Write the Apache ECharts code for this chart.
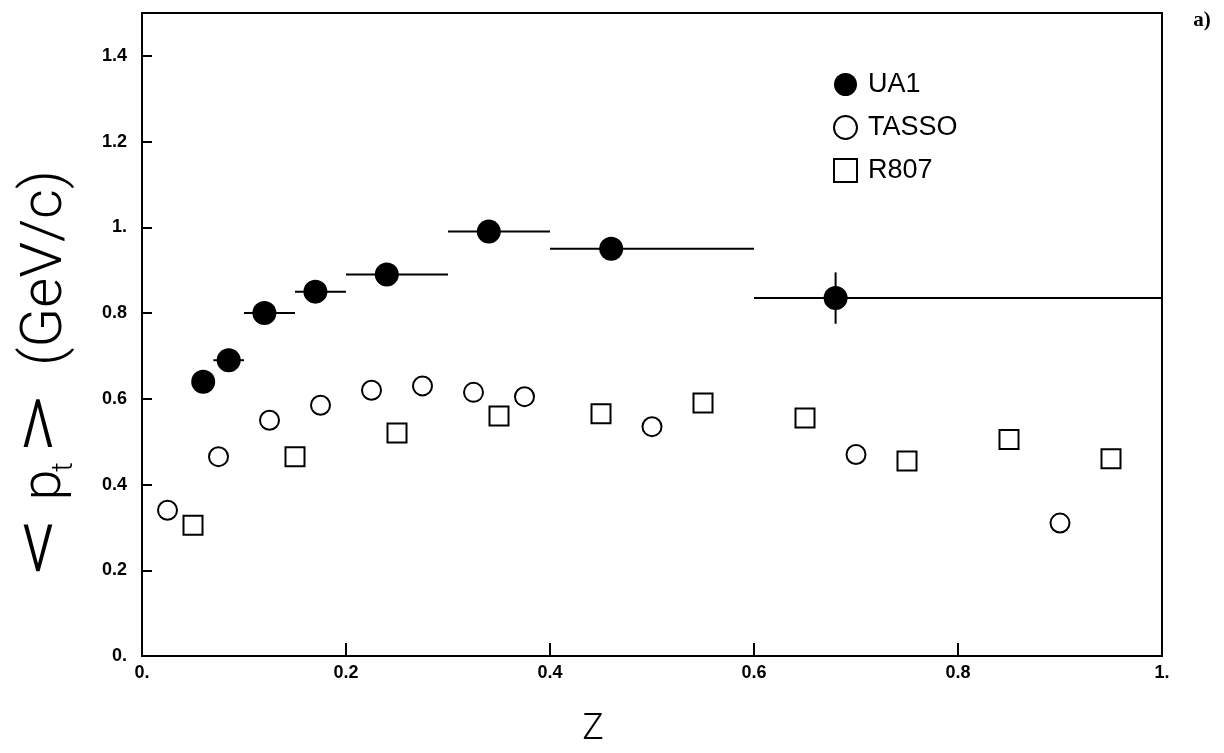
<!DOCTYPE html>
<html>
<head>
<meta charset="utf-8">
<script src="https://cdn.jsdelivr.net/npm/echarts@6/dist/echarts.min.js"></script>
<style>
  html, body { margin: 0; padding: 0; background: #fff; }
  #chart { width: 1224px; height: 753px; }
</style>
</head>
<body>
<div id="chart"></div>
<script>
// Tick labels as printed on the axes
const zTickLabels = ['0.', '0.2', '0.4', '0.6', '0.8', '1.'];
const ptTickLabels = ['0.', '0.2', '0.4', '0.6', '0.8', '1.', '1.2', '1.4'];

// UA1: mean transverse momentum vs z, with z-bin edges and pt errors
const ua1Z      = [0.06, 0.085, 0.12, 0.17, 0.24, 0.34, 0.46, 0.68];
const ua1Pt     = [0.64, 0.69, 0.80, 0.85, 0.89, 0.99, 0.95, 0.835];
const ua1ZLow   = [0.05, 0.07, 0.10, 0.15, 0.20, 0.30, 0.40, 0.60];
const ua1ZHigh  = [0.07, 0.10, 0.15, 0.20, 0.30, 0.40, 0.60, 1.00];
const ua1PtErr  = [0, 0, 0, 0, 0, 0.015, 0, 0.06];

// TASSO
const tassoZ  = [0.025, 0.075, 0.125, 0.175, 0.225, 0.275, 0.325, 0.375, 0.5, 0.7, 0.9];
const tassoPt = [0.34, 0.465, 0.55, 0.585, 0.62, 0.63, 0.615, 0.605, 0.535, 0.47, 0.31];

// R807
const r807Z  = [0.05, 0.15, 0.25, 0.35, 0.45, 0.55, 0.65, 0.75, 0.85, 0.95];
const r807Pt = [0.305, 0.465, 0.52, 0.56, 0.565, 0.59, 0.555, 0.455, 0.505, 0.46];

const tickFont = 'Liberation Sans, Arial, Helvetica, sans-serif';
const thinFont = 'Roboto, "Open Sans", "DejaVu Sans", sans-serif';

const pairs = (xs, ys) => xs.map((x, i) => [x, ys[i]]);

const ua1Bars = ua1Z.map((z, i) => [
  z, ua1Pt[i], ua1ZLow[i], ua1ZHigh[i],
  ua1Pt[i] - ua1PtErr[i], ua1Pt[i] + ua1PtErr[i]
]);

// Thin lettering used for the axis titles
const thin = (text, fontSize, extra) => Object.assign({
  text, fontSize, fontFamily: thinFont, fontWeight: 300, fill: '#000',
  align: 'center', verticalAlign: 'middle'
}, extra || {});

const chart = echarts.init(document.getElementById('chart'), null, { renderer: 'canvas' });

const option = {
  backgroundColor: '#fff',
  animation: false,
  grid: {
    left: 142, right: 62, top: 13, bottom: 97,
    show: true, borderColor: '#000', borderWidth: 2, backgroundColor: 'transparent'
  },
  xAxis: {
    type: 'value', min: 0, max: 1, interval: 0.2,
    axisLine: { show: true, onZero: false, lineStyle: { color: '#000', width: 2 } },
    axisTick: { show: true, inside: true, length: 13, lineStyle: { color: '#000', width: 2 } },
    axisLabel: {
      color: '#000', fontSize: 18, fontWeight: 'bold', fontFamily: tickFont, margin: 8,
      formatter: v => zTickLabels[Math.round(v / 0.2)] ?? ''
    },
    splitLine: { show: false }
  },
  yAxis: {
    type: 'value', min: 0, max: 1.5, interval: 0.2,
    axisLine: { show: true, onZero: false, lineStyle: { color: '#000', width: 2 } },
    axisTick: { show: true, inside: true, length: 10, lineStyle: { color: '#000', width: 2 } },
    axisLabel: {
      color: '#000', fontSize: 18, fontWeight: 'bold', fontFamily: tickFont, margin: 15,
      formatter: v => (v > 1.45 ? '' : (ptTickLabels[Math.round(v / 0.2)] ?? ''))
    },
    splitLine: { show: false }
  },
  legend: {
    orient: 'vertical', left: 828, top: 66,
    itemWidth: 23, itemHeight: 23, itemGap: 16,
    textStyle: { color: '#000', fontSize: 27, fontFamily: tickFont, padding: [0, 0, 0, 6] },
    data: [
      { name: 'UA1', icon: 'circle' },
      { name: 'TASSO', icon: 'circle', itemStyle: { color: '#fff', borderColor: '#000', borderWidth: 2 } },
      { name: 'R807', icon: 'rect', itemStyle: { color: '#fff', borderColor: '#000', borderWidth: 2 } }
    ]
  },
  graphic: [
    {
      // vertical title  <p_t>  (GeV/c), reading bottom to top
      type: 'group', x: 46, y: 372, rotation: Math.PI / 2,
      children: [
        { type: 'text', x: -174, y: -3, scaleX: 1.7, style: thin('<', 68) },
        { type: 'text', x: -113, y: 0, style: thin('p', 56) },
        { type: 'text', x: -95, y: 18, style: thin('t', 30) },
        { type: 'text', x: -52, y: -3, scaleX: 1.7, style: thin('>', 68) },
        { type: 'text', x: 104, y: 0, style: thin('(GeV/c)', 58) }
      ]
    },
    {
      type: 'text', x: 593, y: 730,
      style: thin('Z', 36)
    },
    {
      type: 'text', x: 1202, y: 21,
      style: {
        text: 'a)', align: 'center', verticalAlign: 'middle',
        fontSize: 21, fontWeight: 'bold', fontFamily: '"Liberation Serif", "Times New Roman", serif', fill: '#000'
      }
    }
  ],
  series: [
    {
      name: 'UA1 errors', type: 'custom', z: 3,
      data: ua1Bars,
      encode: { x: [0, 2, 3], y: [1, 4, 5] },
      renderItem: (params, api) => {
        const z = api.value(0), pt = api.value(1);
        const zLo = api.value(2), zHi = api.value(3);
        const ptLo = api.value(4), ptHi = api.value(5);
        const style = { stroke: '#000', lineWidth: 2 };
        const a = api.coord([zLo, pt]), b = api.coord([zHi, pt]);
        const children = [{ type: 'line', shape: { x1: a[0], y1: a[1], x2: b[0], y2: b[1] }, style }];
        if (ptHi > ptLo) {
          const c = api.coord([z, ptLo]), d = api.coord([z, ptHi]);
          children.push({ type: 'line', shape: { x1: c[0], y1: c[1], x2: d[0], y2: d[1] }, style });
        }
        return { type: 'group', children };
      }
    },
    {
      name: 'UA1', type: 'scatter', z: 4,
      symbol: 'circle', symbolSize: 24,
      itemStyle: { color: '#000', opacity: 1 },
      data: pairs(ua1Z, ua1Pt)
    },
    {
      name: 'TASSO', type: 'scatter', z: 4,
      symbol: 'circle', symbolSize: 19,
      itemStyle: { color: '#fff', borderColor: '#000', borderWidth: 2, opacity: 1 },
      data: pairs(tassoZ, tassoPt)
    },
    {
      name: 'R807', type: 'scatter', z: 4,
      symbol: 'rect', symbolSize: 19,
      itemStyle: { color: '#fff', borderColor: '#000', borderWidth: 2, opacity: 1 },
      data: pairs(r807Z, r807Pt)
    }
  ]
};

chart.setOption(option);
</script>
</body>
</html>
